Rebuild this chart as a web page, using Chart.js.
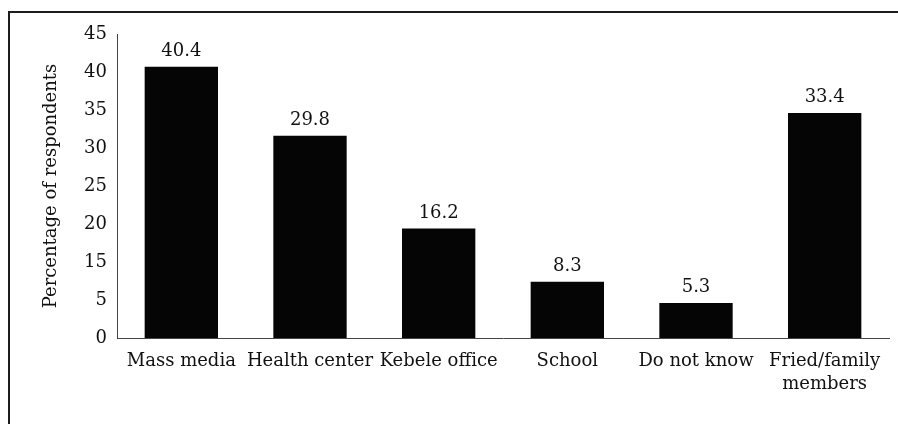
<!DOCTYPE html>
<html>
<head>
<meta charset="utf-8">
<script src="https://cdn.jsdelivr.net/npm/chart.js@4.4.1/dist/chart.umd.min.js"></script>
<style>
  html, body { margin: 0; padding: 0; background: #fff; overflow: hidden; }
  #wrap { position: absolute; left: 0; top: 0; width: 898px; height: 424px; }
  #frame { position: absolute; left: 8px; top: 11px; width: 1000px; height: 1000px;
           border-left: 2px solid #1c1c1c; border-top: 2px solid #1c1c1c; }
</style>
</head>
<body>
<div id="wrap">
  <div id="frame"></div>
  <canvas id="sourceChart" width="898" height="424"></canvas>
</div>
<script>
// Categories and values
const categories = ['Mass media', 'Health center', 'Kebele office', 'School', 'Do not know', ['Fried/family', 'members']];
const valueLabels = ['40.4', '29.8', '16.2', '8.3', '5.3', '33.4'];
// bar heights as drawn, read against the printed tick labels
const barHeights = [40.7, 31.6, 19.4, 9.8, 4.6, 34.6];
// printed y tick labels (evenly spaced, "10" is missing in the original)
const yTickLabels = [0, 5, 15, 20, 25, 30, 35, 40, 45];

const TICK_STEP = 5;
const FONT = { family: 'DejaVu Serif', size: 18 };
const TEXT = '#111';

// map a value on the printed (uneven) axis to the evenly spaced tick position
function toAxis(v) {
    for (let i = 0; i < yTickLabels.length - 1; i++) {
        const a = yTickLabels[i], b = yTickLabels[i + 1];
        if (v <= b || i === yTickLabels.length - 2) {
            return (i + (v - a) / (b - a)) * TICK_STEP;
        }
    }
    return 0;
}

// value labels above bars
const barLabels = {
    id: 'barLabels',
    afterDatasetsDraw(chart) {
        const ctx = chart.ctx;
        const meta = chart.getDatasetMeta(0);
        ctx.save();
        ctx.font = `${FONT.size}px "${FONT.family}"`;
        ctx.fillStyle = TEXT;
        ctx.textAlign = 'center';
        ctx.textBaseline = 'alphabetic';
        meta.data.forEach((bar, i) => {
            ctx.fillText(valueLabels[i], bar.x, bar.y - 11);
        });
        ctx.restore();
    }
};

new Chart(document.getElementById('sourceChart'), {
    type: 'bar',
    data: {
        labels: categories,
        datasets: [{
            data: barHeights.map(toAxis),
            backgroundColor: '#050505',
            borderWidth: 0,
            barPercentage: 0.57,
            categoryPercentage: 1
        }]
    },
    options: {
        responsive: false,
        animation: false,
        events: [],
        layout: { padding: { top: 34, right: 9, bottom: 0, left: 0 } },
        plugins: {
            legend: { display: false },
            tooltip: { enabled: false }
        },
        scales: {
            x: {
                grid: { display: false, drawTicks: false },
                border: { color: '#444', width: 1 },
                ticks: {
                    font: { ...FONT, lineHeight: 1.28 },
                    color: TEXT, padding: 12, maxRotation: 0, autoSkip: false
                },
                afterFit: s => { s.height = 86; }
            },
            y: {
                min: 0,
                max: (yTickLabels.length - 1) * TICK_STEP,
                grid: { display: false, drawTicks: false },
                border: { color: '#444', width: 1 },
                ticks: {
                    stepSize: TICK_STEP,
                    font: FONT,
                    color: TEXT,
                    padding: 10,
                    callback: (v) => yTickLabels[Math.round(v / TICK_STEP)]
                },
                title: {
                    display: true,
                    text: 'Percentage of respondents',
                    font: FONT,
                    color: TEXT,
                    padding: { top: 41, bottom: 0 }
                },
                afterFit: s => { s.width = 117; }
            }
        }
    },
    plugins: [barLabels]
});
</script>
</body>
</html>
